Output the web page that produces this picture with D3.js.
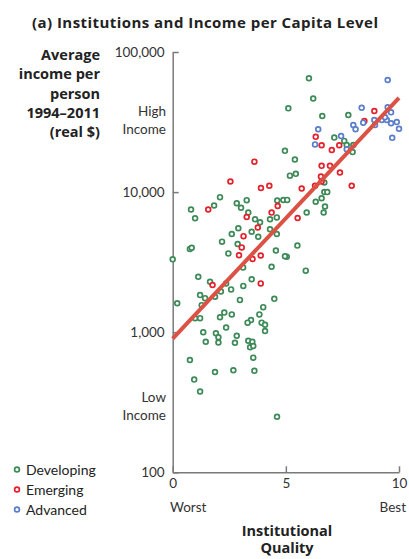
<!DOCTYPE html>
<html>
<head>
<meta charset="utf-8">
<script src="https://cdn.jsdelivr.net/npm/d3@7"></script>
<style>
  body { margin: 0; background: #fff; }
  text { font-family: Lato, "Open Sans", sans-serif; }
  text.bold { font-family: "Open Sans", Lato, sans-serif; font-weight: bold; }
</style>
</head>
<body>
<script>
var width = 409,
    height = 559;

// [institutional quality, income per person]
var developing = [
  [6.02,65000],[6.21,46600],[5.11,39600],[6.61,34900],[7.76,35500],[7.14,24500],
  [7.58,23200],[7.69,21700],[7.98,21700],[7.95,19300],[4.96,19700],[5.40,17100],
  [5.18,13100],[5.44,13500],[6.70,11700],[6.70,10000],[6.83,10000],[6.58,9030],
  [6.32,8540],[6.73,7890],[6.67,7150],[5.92,7150],[5.51,4150],[5.04,3460],
  [5.88,2750],[2.09,9200],[1.83,8020],[0.81,7510],[0.99,6500],[2.83,8320],
  [3.02,7740],[3.27,8760],[4.62,8700],[4.89,8780],[5.06,8800],[3.34,7150],
  [3.64,6400],[3.86,6090],[4.60,6600],[4.30,6400],[2.90,5520],[2.61,5020],
  [2.18,4430],[3.49,5210],[3.78,4800],[4.30,5430],[4.60,5020],[2.87,4260],
  [2.46,3650],[4.56,3830],[4.96,3480],[4.37,2930],[0.76,3930],[0.84,4010],
  [0.00,3310],[3.11,2900],[1.13,2490],[1.65,2290],[2.36,2230],[2.58,2020],
  [3.12,2140],[3.49,2390],[1.21,1840],[1.43,1750],[1.28,1560],[1.87,1790],
  [2.13,1950],[2.97,1700],[4.49,1730],[0.20,1610],[0.99,1260],[1.21,1260],
  [2.09,1280],[2.28,1380],[2.61,1340],[3.46,1220],[3.83,1340],[4.00,1510],
  [3.93,1170],[4.08,1130],[4.08,1020],[3.31,1170],[1.35,1000],[1.46,855],
  [1.91,982],[2.02,920],[2.02,845],[2.36,1080],[2.83,944],[2.75,840],
  [3.34,869],[3.52,855],[3.42,780],[3.56,797],[3.56,658],[3.61,530],
  [2.68,535],[1.87,520],[0.76,634],[0.95,459],[1.21,377],[4.61,249]
];

var emerging = [
  [8.91,37900],[8.47,32200],[6.32,24800],[6.58,21600],[7.36,21600],[7.03,20000],
  [3.61,16500],[6.58,15400],[6.95,15400],[7.39,13800],[6.55,12900],[6.58,11900],
  [2.55,11900],[3.90,10700],[4.27,11100],[5.70,10600],[6.29,11100],[7.91,11100],
  [1.57,7510],[4.64,7950],[4.37,7140],[3.27,6640],[5.52,6530],[3.76,5590],
  [3.13,4850],[3.05,4030],[2.93,3540],[3.53,3330],[3.89,3530],[1.76,2170],
  [3.89,2230]
];

var advanced = [
  [9.50,63100],[8.35,40000],[9.50,40300],[9.65,37100],[7.98,30100],[8.08,28100],
  [8.42,31300],[8.91,32700],[8.94,30100],[9.24,32700],[9.46,32700],[9.65,31000],
  [9.90,31600],[10.0,28300],[9.70,24400],[9.38,34200],[6.43,28100],[6.29,21900],
  [7.44,25100],[7.69,20200]
];

// fitted line
var trendX = [0, 10];
var trendY = [900, 47000];

var yTicks = [100, 1000, 10000, 100000];
var xTicks = [0, 5, 10];

var groups = ["Developing", "Emerging", "Advanced"];
var colors = ["#3d8a58", "#e3202b", "#5a7ec9"];

var svg = d3.select("body").append("svg")
    .attr("width", width)
    .attr("height", height);

var x = d3.scaleLinear().domain([0, 10]).range([172.7, 399]);
var y = d3.scaleLog().domain([100, 100000]).range([472.3, 52]);

// TITLE
svg.append("text")
  .attr("class", "bold")
  .attr("x", 32).attr("y", 28)
  .attr("font-size", 15).attr("fill", "#222")
  .attr("textLength", 346).attr("lengthAdjust", "spacing")
  .text("(a) Institutions and Income per Capita Level");

// Y AXIS
svg.append("g")
  .attr("transform", "translate(" + x(0) + ",0)")
  .call(d3.axisLeft(y).tickValues(yTicks).tickFormat(d3.format(","))
        .tickSize(-6).tickSizeOuter(0).tickPadding(8));

// X AXIS
svg.append("g")
  .attr("transform", "translate(0," + y(100) + ")")
  .call(d3.axisBottom(x).tickValues(xTicks).tickSize(-6).tickSizeOuter(0).tickPadding(6));

svg.selectAll(".domain, .tick line").attr("stroke", "#7a7a7a").attr("stroke-width", 1.5);
svg.selectAll(".tick text").attr("font-size", 13.5).attr("fill", "#333")
  .style("font-family", "Lato, sans-serif");

// y label
var ylab = svg.append("text")
  .attr("class", "bold")
  .attr("text-anchor", "end").attr("font-size", 14.5).attr("fill", "#222");
["Average", "income per", "person", "1994\u20132011", "(real $)"].forEach(function(t, i) {
  ylab.append("tspan").attr("x", 100).attr("y", 60 + i * 19.3).text(t);
});

// high / low income
function sideLabel(lines, y0) {
  var t = svg.append("text").attr("text-anchor", "end").attr("font-size", 13.5).attr("fill", "#333");
  lines.forEach(function(s, i) {
    t.append("tspan").attr("x", 166).attr("y", y0 + i * 17.5).text(s);
  });
}
sideLabel(["High", "Income"], 116);
sideLabel(["Low", "Income"], 402);

// Worst / Best
svg.append("text").attr("x", 170).attr("y", 512).attr("font-size", 13.5).attr("fill", "#333").text("Worst");
svg.append("text").attr("x", 406).attr("y", 512).attr("text-anchor", "end")
  .attr("font-size", 13.5).attr("fill", "#333").text("Best");

// x label
var xlab = svg.append("text")
  .attr("class", "bold")
  .attr("text-anchor", "middle").attr("font-size", 14.5).attr("fill", "#222");
["Institutional", "Quality"].forEach(function(t, i) {
  xlab.append("tspan").attr("x", 287).attr("y", 536 + i * 17).text(t);
});

// POINTS
[developing, emerging, advanced].forEach(function(pts, gi) {
  svg.append("g")
    .selectAll("circle")
    .data(pts)
    .enter().append("circle")
    .attr("cx", function(d) { return x(d[0]); })
    .attr("cy", function(d) { return y(d[1]); })
    .attr("r", 2.4)
    .attr("fill", "#fff")
    .attr("stroke", colors[gi])
    .attr("stroke-width", 1.7);
});

// TREND LINE
svg.append("line")
  .attr("x1", x(trendX[0])).attr("y1", y(trendY[0]))
  .attr("x2", x(trendX[1])).attr("y2", y(trendY[1]))
  .attr("stroke", "#db5143").attr("stroke-width", 4);

// LEGEND
var legend = svg.append("g").selectAll("g")
  .data(groups)
  .enter().append("g")
  .attr("transform", function(d, i) { return "translate(17," + (469.5 + i * 20) + ")"; });

legend.append("circle")
  .attr("r", 2.4).attr("fill", "#fff")
  .attr("stroke", function(d, i) { return colors[i]; })
  .attr("stroke-width", 1.7);

legend.append("text")
  .attr("x", 9).attr("y", 5)
  .attr("font-size", 14).attr("fill", "#222")
  .text(function(d) { return d; });
</script>
</body>
</html>
